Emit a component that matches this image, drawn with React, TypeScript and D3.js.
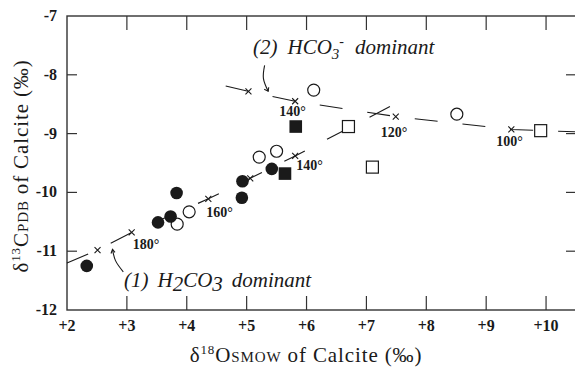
import * as d3 from "d3";

// tick values
const xTicks = [2, 3, 4, 5, 6, 7, 8, 9, 10];
const yTicks = [-12, -11, -10, -9, -8, -7];

// calcite samples, [d18O, d13C]
const filledCircles: [number, number][] = [
  [2.33, -11.25],
  [3.52, -10.51],
  [3.73, -10.41],
  [3.83, -10.01],
  [4.93, -9.81],
  [4.92, -10.09],
  [5.42, -9.6],
];
const openCircles: [number, number][] = [
  [3.84, -10.54],
  [4.04, -10.33],
  [5.21, -9.4],
  [5.5, -9.3],
  [6.12, -8.26],
  [8.51, -8.67],
];
const filledSquares: [number, number][] = [
  [5.82, -8.88],
  [5.64, -9.68],
];
const openSquares: [number, number][] = [
  [6.7, -8.88],
  [7.1, -9.57],
  [9.91, -8.95],
];

// equilibrium curves
const h2co3Line: [number, number][] = [
  [2.0, -11.2],
  [2.51, -10.98],
  [3.08, -10.68],
  [4.36, -10.11],
  [5.06, -9.76],
  [5.81, -9.38],
  [7.43, -8.52],
];
const hco3Line: [number, number][] = [
  [4.65, -8.19],
  [5.03, -8.28],
  [5.81, -8.45],
  [7.49, -8.71],
  [9.42, -8.93],
  [10.5, -8.97],
];

// temperature marks on the curves
const h2co3Temps: [number, number, string][] = [
  [2.51, -10.98, ""],
  [3.08, -10.68, "180°"],
  [4.36, -10.11, "160°"],
  [5.06, -9.76, ""],
  [5.81, -9.38, "140°"],
];
const hco3Temps: [number, number, string][] = [
  [5.03, -8.28, ""],
  [5.81, -8.45, "140°"],
  [7.49, -8.71, "120°"],
  [9.42, -8.93, "100°"],
];

// leader curves for the two annotations
const hco3Leader: [number, number][] = [
  [5.3, -7.84],
  [5.28, -8.06],
  [5.36, -8.28],
];
const h2co3Leader: [number, number][] = [
  [2.76, -10.97],
  [2.81, -11.16],
  [2.94, -11.35],
];

const W = 575;
const H = 368;
const serif = "Liberation Serif";
const ink = "#1a1a1a";
const fnt = { fontFamily: serif };

export default function App() {
  const x = d3.scaleLinear().domain([2, 10.5]).range([67, 576]);
  const y = d3.scaleLinear().domain([-12, -7]).range([310, 16]);

  const line = d3
    .line<[number, number]>()
    .x((d) => x(d[0]))
    .y((d) => y(d[1]));
  const curve = d3
    .line<[number, number]>()
    .x((d) => x(d[0]))
    .y((d) => y(d[1]))
    .curve(d3.curveCatmullRom);

  // label offsets (px) relative to each cross
  const h2co3Off: Record<string, [number, number]> = {
    "180°": [1, 17],
    "160°": [-2, 18],
    "140°": [1, 14],
  };
  const hco3Off: Record<string, [number, number]> = {
    "140°": [-16, 15],
    "120°": [-15, 20],
    "100°": [-15, 17],
  };

  const cross = (cx: number, cy: number, key: string) => (
    <path
      key={key}
      d={`M${cx - 3},${cy - 3}L${cx + 3},${cy + 3}M${cx - 3},${cy + 3}L${cx + 3},${cy - 3}`}
      stroke={ink}
      strokeWidth={1.1}
    />
  );

  const x0 = x(2);
  const x1 = x(10.5);
  const yTop = y(-7);
  const yBot = y(-12);

  const hEnd = hco3Leader[hco3Leader.length - 1];
  const hTip = [x(hEnd[0]), y(hEnd[1])];
  const lStart = h2co3Leader[0];
  const lTip = [x(lStart[0]), y(lStart[1])];

  return (
    <svg
      width={W}
      height={H}
      style={{ position: "absolute", left: 0, top: 0, background: "#fff" }}
    >
      {/* frame */}
      <rect x={x0} y={yTop} width={x1 - x0} height={yBot - yTop} fill="none" stroke="#333" strokeWidth={1.4} />
      {xTicks
        .filter((t) => t > 2)
        .map((t) => (
          <g key={"xt" + t}>
            <line x1={x(t)} x2={x(t)} y1={yBot} y2={yBot - 14} stroke="#333" strokeWidth={1.2} />
            <line x1={x(t)} x2={x(t)} y1={yTop} y2={yTop + 14} stroke="#333" strokeWidth={1.2} />
          </g>
        ))}
      {yTicks
        .filter((t) => t > -12 && t < -7)
        .map((t) => (
          <g key={"yt" + t}>
            <line x1={x0} x2={x0 + 10} y1={y(t)} y2={y(t)} stroke="#333" strokeWidth={1.2} />
            <line x1={x1} x2={x1 - 10} y1={y(t)} y2={y(t)} stroke="#333" strokeWidth={1.2} />
          </g>
        ))}
      {xTicks.map((t) => (
        <text key={"xl" + t} x={x(t)} y={331} textAnchor="middle" fontWeight="bold" fontSize={16} fill={ink} style={fnt}>
          {"+" + t}
        </text>
      ))}
      {yTicks.map((t) => (
        <text key={"yl" + t} x={57} y={y(t) + 5} textAnchor="end" fontWeight="bold" fontSize={16} fill={ink} style={fnt}>
          {"-" + Math.abs(t)}
        </text>
      ))}

      {/* axis titles */}
      <text x={306} y={362} textAnchor="middle" fontSize={21} fill={ink} style={fnt} letterSpacing={0.9}>
        δ<tspan fontSize={13} dy={-8}>18</tspan>
        <tspan dy={8}>O</tspan>
        <tspan fontSize={15}>SMOW</tspan>
        <tspan dx={6}>of</tspan>
        <tspan dx={6}>Calcite</tspan>
        <tspan dx={6}>(‰)</tspan>
      </text>
      <text transform="translate(28,166) rotate(-90)" textAnchor="middle" fontSize={21} fill={ink} style={fnt} letterSpacing={0.9}>
        δ<tspan fontSize={13} dy={-8}>13</tspan>
        <tspan dy={8}>C</tspan>
        <tspan fontSize={15}>PDB</tspan>
        <tspan dx={6}>of</tspan>
        <tspan dx={6}>Calcite</tspan>
        <tspan dx={6}>(‰)</tspan>
      </text>

      {/* curves */}
      <path d={line(h2co3Line) ?? ""} fill="none" stroke={ink} strokeWidth={1.1} strokeDasharray="23,25" />
      <path d={line(hco3Line) ?? ""} fill="none" stroke={ink} strokeWidth={1.1} strokeDasharray="23,25" />
      {h2co3Temps.map((d, i) => cross(x(d[0]), y(d[1]), "c1" + i))}
      {hco3Temps.map((d, i) => cross(x(d[0]), y(d[1]), "c2" + i))}
      {h2co3Temps
        .filter((d) => d[2])
        .map((d) => (
          <text
            key={"t1" + d[2]}
            x={x(d[0]) + h2co3Off[d[2]][0]}
            y={y(d[1]) + h2co3Off[d[2]][1]}
            fontSize={14}
            fontWeight="bold"
            fill={ink}
            style={fnt}
          >
            {d[2]}
          </text>
        ))}
      {hco3Temps
        .filter((d) => d[2])
        .map((d) => (
          <text
            key={"t2" + d[2]}
            x={x(d[0]) + hco3Off[d[2]][0]}
            y={y(d[1]) + hco3Off[d[2]][1]}
            fontSize={14}
            fontWeight="bold"
            fill={ink}
            style={fnt}
          >
            {d[2]}
          </text>
        ))}

      {/* samples */}
      {openCircles.map((d, i) => (
        <circle key={"oc" + i} cx={x(d[0])} cy={y(d[1])} r={6} fill="#fff" stroke={ink} strokeWidth={1.2} />
      ))}
      {filledCircles.map((d, i) => (
        <circle key={"fc" + i} cx={x(d[0])} cy={y(d[1])} r={6.3} fill={ink} />
      ))}
      {openSquares.map((d, i) => (
        <rect key={"os" + i} x={x(d[0]) - 6} y={y(d[1]) - 6} width={12} height={12} fill="#fff" stroke={ink} strokeWidth={1.2} />
      ))}
      {filledSquares.map((d, i) => (
        <rect key={"fs" + i} x={x(d[0]) - 6.3} y={y(d[1]) - 6.3} width={12.6} height={12.6} fill={ink} />
      ))}

      {/* annotations */}
      <path d={curve(hco3Leader) ?? ""} fill="none" stroke={ink} strokeWidth={1.1} />
      <path
        d={`M${hTip[0] - 4},${hTip[1] - 2}L${hTip[0]},${hTip[1]}L${hTip[0] + 0.5},${hTip[1] - 4}`}
        fill="none"
        stroke={ink}
        strokeWidth={1.1}
      />
      <path d={curve(h2co3Leader) ?? ""} fill="none" stroke={ink} strokeWidth={1.1} />
      <path
        d={`M${lTip[0] - 1.5},${lTip[1] + 4}L${lTip[0]},${lTip[1]}L${lTip[0] + 2.5},${lTip[1] + 3}`}
        fill="none"
        stroke={ink}
        strokeWidth={1.1}
      />
      <text x={253} y={54} fontSize={21} fontStyle="italic" fill={ink} style={fnt}>
        (2)
        <tspan dx={10}>HCO</tspan>
        <tspan fontSize={15} dy={5}>3</tspan>
        <tspan fontSize={14} dy={-13}>-</tspan>
        <tspan dx={11} dy={8}>dominant</tspan>
      </text>
      <text x={124} y={287} fontSize={21} fontStyle="italic" fill={ink} style={fnt}>
        (1)
        <tspan dx={9}>H</tspan>
        <tspan dy={4}>2</tspan>
        <tspan dy={-4}>CO</tspan>
        <tspan dy={4}>3</tspan>
        <tspan dx={9} dy={-4}>dominant</tspan>
      </text>
    </svg>
  );
}
